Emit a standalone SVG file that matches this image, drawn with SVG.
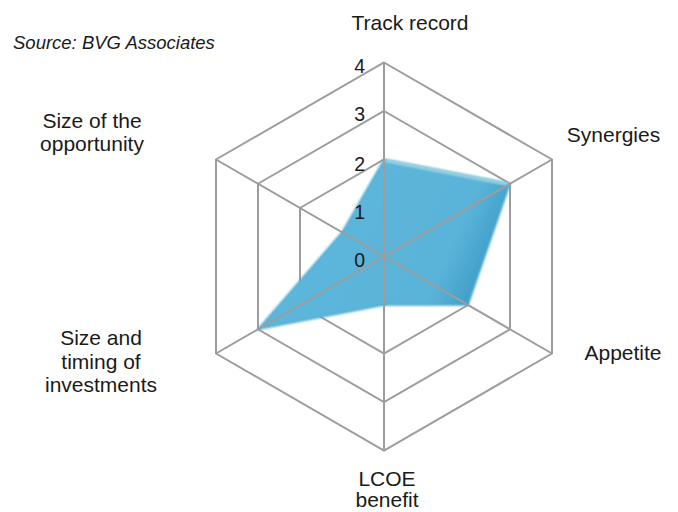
<svg xmlns="http://www.w3.org/2000/svg" width="678" height="512" viewBox="0 0 678 512">
  <style>
    .grid { fill: none; stroke: #9d9d9d; stroke-width: 2; stroke-linejoin: miter; }
    .spoke { stroke: #9d9d9d; stroke-width: 2; }
    .lbl { font-family: "Liberation Sans", Arial, sans-serif; font-size: 21px; fill: #1a1a1a; text-anchor: middle; }
    .tick { font-family: "Liberation Sans", Arial, sans-serif; font-size: 19.5px; fill: #1a1a1a; text-anchor: end; }
    .src { font-family: "Liberation Sans", Arial, sans-serif; font-size: 18.5px; font-style: italic; fill: #1a1a1a; }
  </style>
  <defs>
    <filter id="soft" x="-5%" y="-5%" width="110%" height="110%">
      <feGaussianBlur stdDeviation="0.9"/>
    </filter>
    <linearGradient id="areaFill" x1="0" y1="0" x2="1" y2="0.3">
      <stop offset="0" stop-color="#5fb8dc"/>
      <stop offset="0.85" stop-color="#5ab3d8"/>
      <stop offset="1" stop-color="#3f9fca"/>
    </linearGradient>
  </defs>
  <rect x="0" y="0" width="678" height="512" fill="#ffffff"/>

  <g id="source">
    <text class="src" x="13" y="48.5">Source: BVG Associates</text>
  </g>

  <g id="rings">
    <polygon class="grid" points="384,208 426,232.25 426,280.75 384,305 342,280.75 342,232.25"/>
    <polygon class="grid" points="384,159.5 468,208 468,305 384,353.5 300,305 300,208"/>
    <polygon class="grid" points="384,111 510,183.75 510,329.25 384,402 258,329.25 258,183.75"/>
    <polygon class="grid" points="384,62.5 552,159.5 552,353.5 384,450.5 216,353.5 216,159.5"/>
  </g>

  <g id="data-area">
    <polygon points="384,159.5 510,183.75 468,305 384,305 258,329.25 342,232.25" fill="url(#areaFill)" stroke="#4aa8d0" stroke-width="1.5" stroke-linejoin="round" filter="url(#soft)"/>
    <polyline points="385,160.5 509,184.5" fill="none" stroke="#9fd6e2" stroke-width="3" filter="url(#soft)"/>
  </g>

  <g id="spokes">
    <line class="spoke" x1="384" y1="256.5" x2="384" y2="62.5"/>
    <line class="spoke" x1="384" y1="256.5" x2="552" y2="159.5"/>
    <line class="spoke" x1="384" y1="256.5" x2="552" y2="353.5"/>
    <line class="spoke" x1="384" y1="256.5" x2="384" y2="450.5"/>
    <line class="spoke" x1="384" y1="256.5" x2="216" y2="353.5"/>
    <line class="spoke" x1="384" y1="256.5" x2="216" y2="159.5"/>
  </g>

  <g id="scale-labels">
    <text class="tick" x="365" y="73.3">4</text>
    <text class="tick" x="365" y="121">3</text>
    <text class="tick" x="365" y="170.5">2</text>
    <text class="tick" x="365" y="218.5">1</text>
    <text class="tick" x="365" y="267.3">0</text>
  </g>

  <g id="axis-track-record">
    <text class="lbl" x="410" y="30">Track record</text>
  </g>
  <g id="axis-synergies">
    <text class="lbl" x="613.5" y="141.5">Synergies</text>
  </g>
  <g id="axis-appetite">
    <text class="lbl" x="623" y="360">Appetite</text>
  </g>
  <g id="axis-lcoe">
    <text class="lbl" x="387" y="485.5">LCOE</text>
    <text class="lbl" x="387" y="507">benefit</text>
  </g>
  <g id="axis-size-timing">
    <text class="lbl" x="101" y="345">Size and</text>
    <text class="lbl" x="101" y="368.5">timing of</text>
    <text class="lbl" x="101" y="392">investments</text>
  </g>
  <g id="axis-size-opportunity">
    <text class="lbl" x="92" y="128">Size of the</text>
    <text class="lbl" x="92" y="151">opportunity</text>
  </g>
</svg>
